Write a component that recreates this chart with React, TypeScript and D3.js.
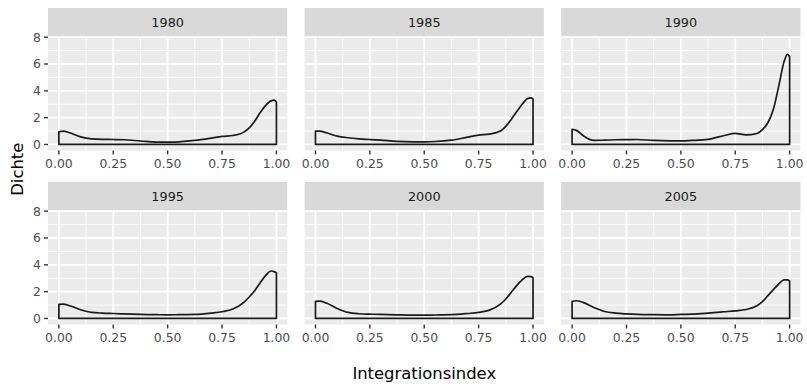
import React from 'react';
import * as d3 from 'd3';

const years = ['1980', '1985', '1990', '1995', '2000', '2005'];
const xGrid = [0, 0.02, 0.05, 0.1, 0.15, 0.2, 0.25, 0.3, 0.375, 0.45, 0.5, 0.55, 0.625, 0.7, 0.75, 0.8, 0.85, 0.875, 0.9, 0.925, 0.95, 0.975, 0.99, 1.0];
const d1980 = [0.95, 1.0, 0.87, 0.57, 0.42, 0.38, 0.37, 0.35, 0.26, 0.18, 0.17, 0.2, 0.3, 0.47, 0.6, 0.67, 0.92, 1.24, 1.74, 2.36, 2.9, 3.25, 3.3, 3.16];
const d1985 = [1.0, 1.0, 0.87, 0.62, 0.5, 0.42, 0.37, 0.32, 0.23, 0.2, 0.2, 0.22, 0.32, 0.55, 0.7, 0.77, 1.0, 1.35, 1.87, 2.45, 3.0, 3.43, 3.48, 3.4];
const d1990 = [1.12, 1.05, 0.67, 0.3, 0.32, 0.35, 0.36, 0.37, 0.3, 0.27, 0.27, 0.3, 0.38, 0.67, 0.82, 0.71, 0.82, 1.1, 1.62, 2.6, 4.35, 6.2, 6.72, 6.54];
const d1995 = [1.05, 1.07, 0.95, 0.65, 0.45, 0.4, 0.37, 0.34, 0.3, 0.28, 0.27, 0.28, 0.3, 0.4, 0.5, 0.7, 1.2, 1.6, 2.07, 2.65, 3.19, 3.54, 3.49, 3.39];
const d2000 = [1.27, 1.3, 1.15, 0.75, 0.45, 0.35, 0.32, 0.3, 0.27, 0.25, 0.25, 0.26, 0.28, 0.37, 0.45, 0.62, 1.07, 1.45, 1.95, 2.45, 2.87, 3.14, 3.12, 3.04];
const d2005 = [1.27, 1.32, 1.2, 0.82, 0.52, 0.4, 0.34, 0.3, 0.28, 0.27, 0.3, 0.32, 0.4, 0.5, 0.57, 0.67, 0.95, 1.25, 1.7, 2.15, 2.57, 2.87, 2.87, 2.8];
const series = [d1980, d1985, d1990, d1995, d2000, d2005];

const xTicks = [0, 0.25, 0.5, 0.75, 1.0];
const xMinor = [0.125, 0.375, 0.625, 0.875];
const yTicks = [0, 2, 4, 6, 8];
const yMinor = [1, 3, 5, 7];

const W = 807, H = 384;
const colLeft = [48, 304.6, 561.2];
const panelW = 239.3;
const stripTop = [8, 182];
const stripH = 28.5;
const panelH = 114;
const FONT = '"DejaVu Sans", sans-serif';

export default function App() {
  const x = d3.scaleLinear().domain([-0.05, 1.05]).range([0, panelW]);
  const y = d3.scaleLinear().domain([-0.45, 8.05]).range([panelH, 0]);
  const line = d3.line<number>()
    .x((_, i) => x(xGrid[i]))
    .y((d) => y(d))
    .curve(d3.curveMonotoneX);

  return (
    <div style={{ position: 'fixed', left: 0, top: 0 }}>
      <svg width={W} height={H} style={{ display: 'block' }} fontFamily={FONT}>
        <rect width={W} height={H} fill="#ffffff" />
        {years.map((yr, k) => {
          const col = k % 3;
          const row = Math.floor(k / 3);
          const left = colLeft[col];
          const sTop = stripTop[row];
          const pTop = sTop + stripH;
          const vals = series[k];
          const curve = line(vals) as string;
          const path = `${curve}L${x(1)},${y(0)}L${x(0)},${y(0)}Z`;
          return (
            <g key={yr}>
              <rect x={left} y={sTop} width={panelW} height={stripH} fill="#D9D9D9" />
              <text x={left + panelW / 2} y={sTop + stripH / 2} dy="0.36em" textAnchor="middle" fontSize={12.8} fill="#1A1A1A">{yr}</text>
              <g transform={`translate(${left},${pTop})`}>
                <rect width={panelW} height={panelH} fill="#EBEBEB" />
                {yMinor.map((v) => (
                  <line key={'ym' + v} x1={0} x2={panelW} y1={y(v)} y2={y(v)} stroke="#fff" strokeWidth={0.9} />
                ))}
                {xMinor.map((v) => (
                  <line key={'xm' + v} y1={0} y2={panelH} x1={x(v)} x2={x(v)} stroke="#fff" strokeWidth={0.9} />
                ))}
                {yTicks.map((v) => (
                  <line key={'yM' + v} x1={0} x2={panelW} y1={y(v)} y2={y(v)} stroke="#fff" strokeWidth={1.8} />
                ))}
                {xTicks.map((v) => (
                  <line key={'xM' + v} y1={0} y2={panelH} x1={x(v)} x2={x(v)} stroke="#fff" strokeWidth={1.8} />
                ))}
                <path d={path} fill="none" stroke="#1a1a1a" strokeWidth={1.7} strokeLinejoin="round" />
                {xTicks.map((v) => (
                  <g key={'xt' + v}>
                    <line x1={x(v)} x2={x(v)} y1={panelH} y2={panelH + 3.9} stroke="#333" strokeWidth={1.4} />
                    <text x={x(v)} y={panelH + 17.8} textAnchor="middle" fontSize={12.4} fill="#4D4D4D">{d3.format('.2f')(v)}</text>
                  </g>
                ))}
                {col === 0 && yTicks.map((v) => (
                  <g key={'yt' + v}>
                    <line x1={-3.9} x2={0} y1={y(v)} y2={y(v)} stroke="#333" strokeWidth={1.4} />
                    <text x={-7} y={y(v)} dy="0.36em" textAnchor="end" fontSize={12.4} fill="#4D4D4D">{v}</text>
                  </g>
                ))}
              </g>
            </g>
          );
        })}
        <text x={(colLeft[0] + colLeft[2] + panelW) / 2} y={378.5} textAnchor="middle" fontSize={16.4} fill="#000">Integrationsindex</text>
        <text transform={`translate(23,${(stripTop[0] + stripTop[1] + stripH + panelH) / 2 + 3}) rotate(-90)`} textAnchor="middle" fontSize={16.4} fill="#000">Dichte</text>
      </svg>
    </div>
  );
}
